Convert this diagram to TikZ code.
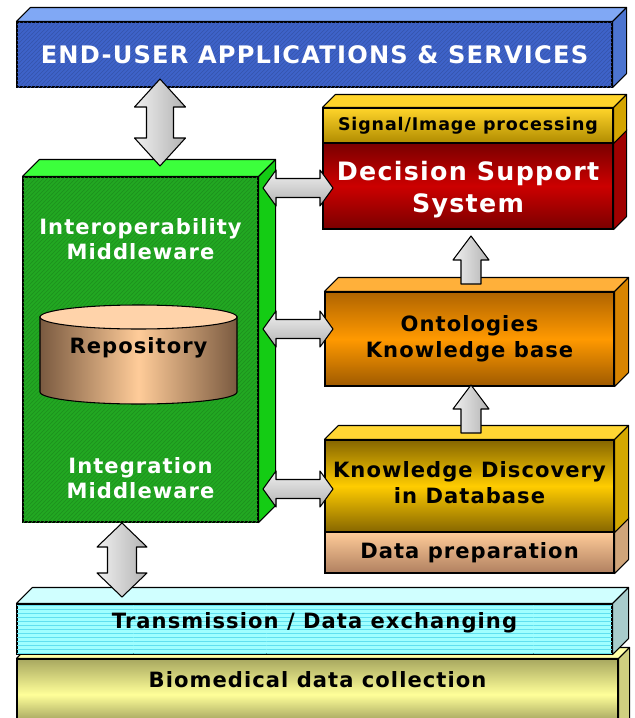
\documentclass[tikz,border=0pt]{standalone}
\usepackage{fontspec}
\setmainfont{DejaVu Sans}[LetterSpace=5]
\usetikzlibrary{patterns}

\definecolor{euaFront}{HTML}{3E63C9}
\definecolor{euaTop}{HTML}{80A8F5}
\definecolor{euaSide}{HTML}{4C74CF}
\definecolor{midFront}{HTML}{22A822}
\definecolor{midTop}{HTML}{3CFF3C}
\definecolor{midSide}{HTML}{14CC14}
\definecolor{sigLight}{HTML}{FFD42A}
\definecolor{sigDark}{HTML}{B08C00}
\definecolor{sigSide}{HTML}{D4A500}
\definecolor{dssLight}{HTML}{CC0000}
\definecolor{dssDark}{HTML}{7A0000}
\definecolor{dssSide}{HTML}{A00000}
\definecolor{ontoLight}{HTML}{FF9900}
\definecolor{ontoDark}{HTML}{B06400}
\definecolor{ontoTop}{HTML}{FFB03A}
\definecolor{ontoSide}{HTML}{D88400}
\definecolor{kddLight}{HTML}{FFCC00}
\definecolor{kddDark}{HTML}{866600}
\definecolor{kddTop}{HTML}{FFD633}
\definecolor{kddSide}{HTML}{D4A800}
\definecolor{prepLight}{HTML}{FFCC99}
\definecolor{prepDark}{HTML}{B08060}
\definecolor{prepSide}{HTML}{D0A57A}
\definecolor{transFront}{HTML}{A0FFFF}
\definecolor{transLine}{HTML}{60E0F0}
\definecolor{transTop}{HTML}{D0FFFF}
\definecolor{transSide}{HTML}{A8CCCC}
\definecolor{bioLight}{HTML}{FFFF99}
\definecolor{bioDark}{HTML}{A8A860}
\definecolor{bioTop}{HTML}{FFFFA8}
\definecolor{bioSide}{HTML}{D0D080}
\definecolor{repoLight}{HTML}{FFCC99}
\definecolor{repoDark}{HTML}{7A5A40}
\definecolor{repoTop}{HTML}{FFD3AA}

\begin{document}
\begin{tikzpicture}[x=0.75pt, y=-0.75pt, line width=0.8pt,
	every node/.style={font=\fontsize{15.8}{19.5}\selectfont\bfseries},
	box/.style={draw, inner sep=0pt, align=center},
	face/.style={draw, line join=round},
	updown/.style={draw, line join=round, left color=gray!12, right color=gray!60},
	leftright/.style={draw, line join=round, top color=gray!12, bottom color=gray!60}]
	\useasboundingbox (0,0) rectangle (635,718);

	% bottom layers
	\node[box, minimum width=450.75pt, minimum height=53.25pt, top color=bioDark, bottom color=bioDark!80!black, middle color=bioLight] (bio) at (317.5,694.5) {};
	\filldraw[face, fill=bioTop] (bio.north west) -- ++(11,-11) -- ([shift={(11,-11)}]bio.north east) -- (bio.north east) -- cycle;
	\filldraw[face, fill=bioSide] (bio.north east) -- ++(11,-11) -- ([shift={(11,-11)}]bio.south east) -- (bio.south east) -- cycle;
	\node (bio-t) at (317.5,680) {Biomedical data collection};

	\node[box, minimum width=446.25pt, minimum height=37.5pt, fill=transFront, postaction={pattern=horizontal lines, pattern color=transLine}] (trans) at (314.5,629) {};
	\filldraw[face, fill=transTop] (trans.north west) -- ++(16,-16) -- ([shift={(16,-16)}]trans.north east) -- (trans.north east) -- cycle;
	\filldraw[face, fill=transSide] (trans.north east) -- ++(16,-16) -- ([shift={(16,-16)}]trans.south east) -- (trans.south east) -- cycle;
	\node (trans-t) at (314.5,623) {Transmission / Data exchanging};

	% top layer
	\node[box, minimum width=446.25pt, minimum height=48.75pt, fill=euaFront, postaction={pattern=north east lines, pattern color=euaFront!85!black}, text=white, font=\fontsize{18.1}{22}\selectfont\bfseries] (eua) at (314.5,54.5) {END-USER APPLICATIONS \& SERVICES};
	\filldraw[face, fill=euaTop] (eua.north west) -- ++(14,-14) -- ([shift={(14,-14)}]eua.north east) -- (eua.north east) -- cycle;
	\filldraw[face, fill=euaSide] (eua.north east) -- ++(14,-14) -- ([shift={(14,-14)}]eua.south east) -- (eua.south east) -- cycle;

	% middleware block
	\node[box, minimum width=176.25pt, minimum height=258.75pt, fill=midFront, postaction={pattern=north east lines, pattern color=midFront!85!black}] (mid) at (140.5,349.5) {};
	\filldraw[face, fill=midTop] (mid.north west) -- ++(17,-17) -- ([shift={(17,-17)}]mid.north east) -- (mid.north east) -- cycle;
	\filldraw[face, fill=midSide] (mid.north east) -- ++(17,-17) -- ([shift={(17,-17)}]mid.south east) -- (mid.south east) -- cycle;
	\node[white, align=center, font=\fontsize{15.8}{18.75}\selectfont\bfseries] (mid-top) at (140.5,239.5) {Interoperability\\Middleware};
	\node[white, align=center, font=\fontsize{15.8}{18.75}\selectfont\bfseries] (mid-bot) at (140.5,478.5) {Integration\\Middleware};

	% repository
	\shadedraw[left color=repoDark, right color=repoDark, middle color=repoLight] (40,317) -- (40,392) arc[start angle=180, end angle=360, x radius=73.875pt, y radius=9pt] -- (237,317) -- cycle;
	\filldraw[fill=repoTop] (138.5,317) ellipse [x radius=73.875pt, y radius=9pt];
	\node (repo) at (138.5,348) {Repository};

	% right column
	\node[box, minimum width=217.5pt, minimum height=64.5pt, top color=dssDark, bottom color=dssDark, middle color=dssLight] (dss) at (468,186) {};
	\node[white, align=center, font=\fontsize{19}{24}\selectfont\bfseries] (dss-t) at (468,190) {Decision Support\\System};
	\filldraw[face, fill=dssSide] (dss.north east) -- ++(13,-13) -- ([shift={(13,-13)}]dss.south east) -- (dss.south east) -- cycle;
	\node[box, minimum width=217.5pt, minimum height=26.25pt, top color=sigLight, bottom color=sigDark, font=\fontsize{13.1}{16}\selectfont\bfseries] (sig) at (468,125.5) {Signal/Image processing};
	\filldraw[face, fill=sigLight] (sig.north west) -- ++(13,-13) -- ([shift={(13,-13)}]sig.north east) -- (sig.north east) -- cycle;
	\filldraw[face, fill=sigSide] (sig.north east) -- ++(13,-13) -- ([shift={(13,-13)}]sig.south east) -- (sig.south east) -- cycle;

	\node[box, minimum width=216.75pt, minimum height=70.5pt, top color=ontoDark, bottom color=ontoDark!90!black, middle color=ontoLight] (onto) at (469.5,339) {Ontologies\\Knowledge base};
	\filldraw[face, fill=ontoTop] (onto.north west) -- ++(14,-14) -- ([shift={(14,-14)}]onto.north east) -- (onto.north east) -- cycle;
	\filldraw[face, fill=ontoSide] (onto.north east) -- ++(14,-14) -- ([shift={(14,-14)}]onto.south east) -- (onto.south east) -- cycle;

	\node[box, minimum width=216.75pt, minimum height=30.75pt, top color=prepLight, bottom color=prepDark] (prep) at (469.5,552.5) {Data preparation};
	\filldraw[face, fill=prepSide] (prep.north east) -- ++(14,-14) -- ([shift={(14,-14)}]prep.south east) -- (prep.south east) -- cycle;
	\node[box, minimum width=216.75pt, minimum height=69pt, top color=kddDark, bottom color=kddDark, middle color=kddLight] (kdd) at (469.5,486) {};
	\node[align=center] (kdd-t) at (469.5,483) {Knowledge Discovery\\in Database};
	\filldraw[face, fill=kddTop] (kdd.north west) -- ++(14,-14) -- ([shift={(14,-14)}]kdd.north east) -- (kdd.north east) -- cycle;
	\filldraw[face, fill=kddSide] (kdd.north east) -- ++(14,-14) -- ([shift={(14,-14)}]kdd.south east) -- (kdd.south east) -- cycle;

	% block arrows
	\coordinate (eua-mid-a) at (160,79);
	\coordinate (eua-mid-b) at (160,166);
	\shadedraw[updown] (eua-mid-a) -- ++(25.5,28) -- ++(-12,0) -- ++(0,31) -- ++(12,0) -- (eua-mid-b) -- ++(-25.5,-28) -- ++(12,0) -- ++(0,-31) -- ++(-12,0) -- cycle;
	\coordinate (mid-trans-a) at (122,523);
	\coordinate (mid-trans-b) at (122,597);
	\shadedraw[updown] (mid-trans-a) -- ++(25,24) -- ++(-10.5,0) -- ++(0,26) -- ++(10.5,0) -- (mid-trans-b) -- ++(-25,-24) -- ++(10.5,0) -- ++(0,-26) -- ++(-10.5,0) -- cycle;
	\foreach \y/\n in {188/dss, 329/onto, 489/kdd} {
		\coordinate (mid-\n-a) at (263,\y);
		\coordinate (mid-\n-b) at (333,\y);
		\shadedraw[leftright] (mid-\n-a) -- ++(13,-18) -- ++(0,8.5) -- ++(44,0) -- ++(0,-8.5) -- (mid-\n-b) -- ++(-13,18) -- ++(0,-8.5) -- ++(-44,0) -- ++(0,8.5) -- cycle;
	}
	\foreach \y/\n in {236/onto-dss, 385/kdd-onto} {
		\coordinate (\n) at (471,\y);
		\shadedraw[updown] (\n) -- ++(18,24) -- ++(-8,0) -- ++(0,24) -- ++(-20,0) -- ++(0,-24) -- ++(-8,0) -- cycle;
	}
\end{tikzpicture}
\end{document}
